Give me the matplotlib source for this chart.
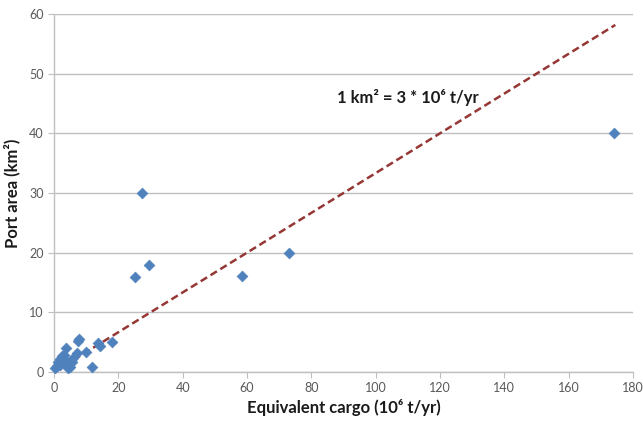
import matplotlib
matplotlib.use("Agg")
import matplotlib.pyplot as plt
import numpy as np

plt.rcParams['font.family'] = ['Lato', 'DejaVu Sans']

# Data (equivalent cargo in 10^6 t/yr, port area in km^2)
cargo = [174, 73, 58.4, 27.4, 29.5, 25.2, 18, 13.7, 14.3, 11.7, 9.8, 7.8, 7.4, 7.0,
         3.6, 0.3, 1.3, 2.4, 2.9, 4.4, 4.4, 5.5, 6.0, 1.9, 3.2, 2.0, 0.8, 3.8, 5.0]
area = [40, 20, 16.1, 30, 17.9, 16, 5, 4.9, 4.4, 0.8, 3.4, 5.5, 5.2, 3.2,
        4.0, 0.6, 1.7, 2.6, 2.0, 1.2, 0.6, 1.7, 2.3, 1.2, 2.9, 2.2, 1.0, 1.8, 0.9]
trend_x = [0, 174.5]
trend_ratio = 3.0  # 1 km^2 = 3 * 10^6 t/yr

x_ticks = [0, 20, 40, 60, 80, 100, 120, 140, 160, 180]
y_ticks = [0, 10, 20, 30, 40, 50, 60]

fig = plt.figure(figsize=(6.43, 4.23), dpi=100)
ax = fig.add_axes([54/643, 1-372/423, (633-54)/643, (372-14)/423])

ax.set_xlim(0, 180)
ax.set_ylim(0, 60)
ax.set_xticks(x_ticks)
ax.set_yticks(y_ticks)

ax.yaxis.grid(True, color='#BFBFBF', linewidth=1.0)
ax.set_axisbelow(True)
for s in ['top', 'right']:
    ax.spines[s].set_visible(False)
for s in ['left', 'bottom']:
    ax.spines[s].set_color('#BFBFBF')
    ax.spines[s].set_linewidth(1.0)

ax.tick_params(axis='both', colors='#BFBFBF', labelcolor='#595959',
               labelsize=9, length=4, direction='out')
ax.tick_params(axis='x', pad=3)

tx = np.array(trend_x)
ax.plot(tx, tx / trend_ratio, color='#953735', linestyle=(0, (3, 1.6)), linewidth=1.8, zorder=2)

ax.scatter(cargo, area, marker='D', s=30, color='#4F81BD', edgecolors='#4F81BD',
           linewidths=0.5, zorder=3, clip_on=False)

ax.set_xlabel('Equivalent cargo (10⁶ t/yr)', fontsize=12, fontweight='bold', color='#1a1a1a', labelpad=4)
ax.set_ylabel('Port area (km²)', fontsize=12, fontweight='bold', color='#1a1a1a', labelpad=6)

ax.text(88, 46, '1 km² = 3 * 10⁶ t/yr', fontsize=12, fontweight='bold', color='#1a1a1a',
        ha='left', va='center')

fig.savefig('out.png', dpi=100)
